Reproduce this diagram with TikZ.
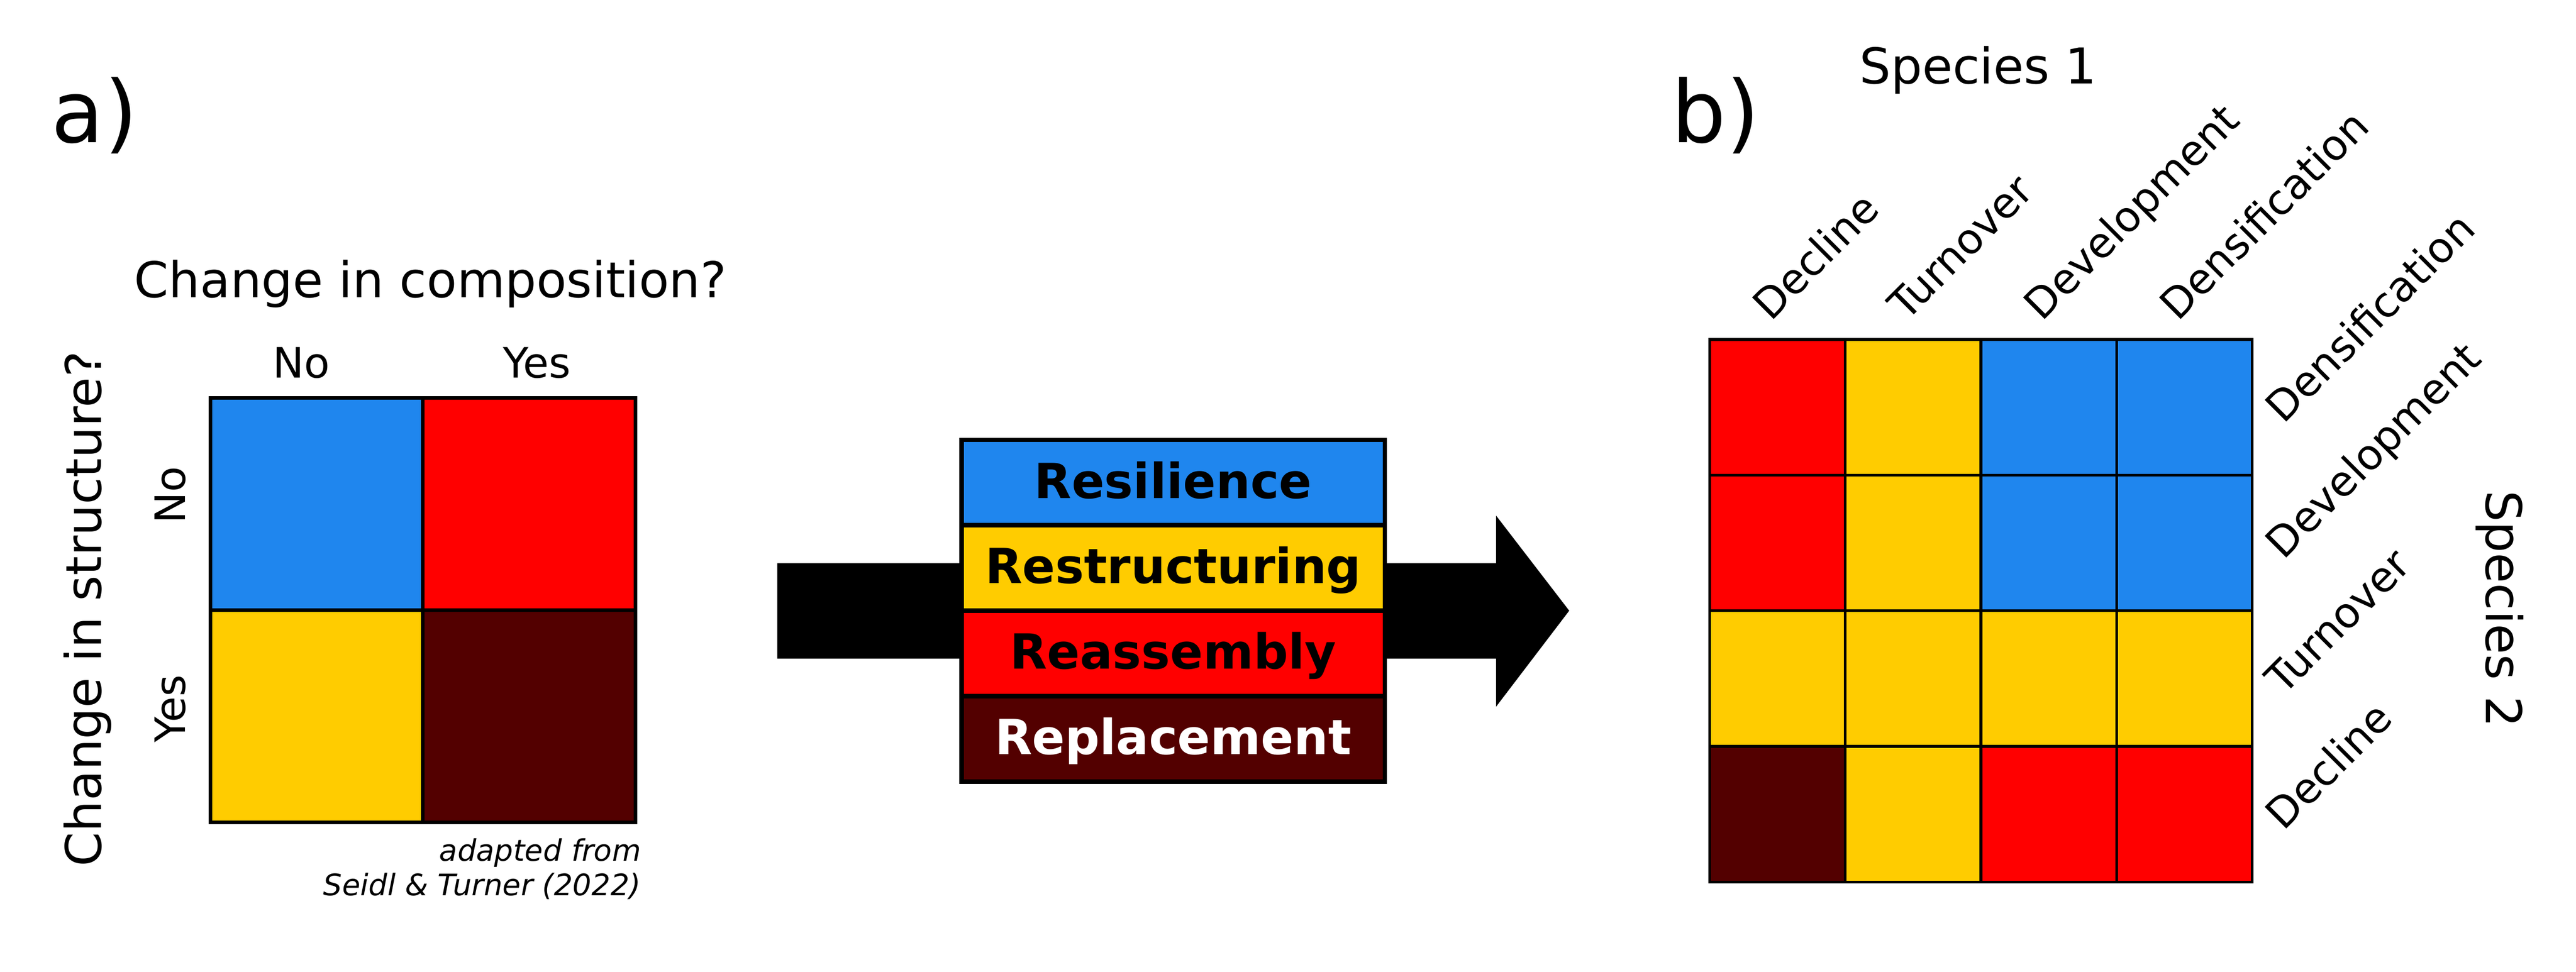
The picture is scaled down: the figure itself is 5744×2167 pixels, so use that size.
\documentclass[tikz,border=0pt]{standalone}
\usepackage{fontspec}
\setmainfont{DejaVu Sans}
\begin{document}
\begin{tikzpicture}[x=0.1mm, y=-0.1mm,
        titel/.style={inner sep=0pt, font=\fontsize{31.3pt}{36pt}\selectfont},
        kategorie/.style={inner sep=0pt, font=\fontsize{26.6pt}{31pt}\selectfont},
        typ/.style={inner sep=0pt, font=\fontsize{30.7pt}{36pt}\selectfont\bfseries},
        panel/.style={inner sep=0pt, font=\fontsize{54.6pt}{60pt}\selectfont},
        quelle/.style={inner sep=0pt, font=\fontsize{18.8pt}{22pt}\selectfont\itshape}]
        % CI-Farben
        \definecolor{ciResilience}{HTML}{1F86EE}
        \definecolor{ciRestructuring}{HTML}{FFCC00}
        \definecolor{ciReassembly}{HTML}{FF0000}
        \definecolor{ciReplacement}{HTML}{530000}

        % Hintergrund
        \fill[white] (0,0) rectangle (5744,2167);

        % Panel a: 2x2-Matrix
        \node[panel, anchor=base west] (panelA) at (114,318) {a)};
        \foreach \x/\y/\c in {0/0/ciResilience, 1/0/ciReassembly,
                              0/1/ciRestructuring, 1/1/ciReplacement}
            \draw[fill=\c, line width=0.8mm] (469+474*\x,888+473*\y) rectangle ++(474,473);
        \node[titel, anchor=base] (frageKomp) at (960,663) {Change in composition?};
        \node[kategorie, anchor=base] (kompNein) at (672,843) {No};
        \node[kategorie, anchor=base] (kompJa) at (1197,843) {Yes};
        \node[titel, rotate=90, anchor=base] (frageStrukt) at (226,1358) {Change in structure?};
        \node[kategorie, rotate=90, anchor=base] (struktNein) at (413,1104) {No};
        \node[kategorie, rotate=90, anchor=base] (struktJa) at (413,1580) {Yes};
        \node[quelle, anchor=base east] (quelleA) at (1430,1920) {adapted from};
        \node[quelle, anchor=base east] (quelleB) at (1430,1997) {Seidl \& Turner (2022)};

        % Pfeil
        \fill[black] (1733,1256) -- (3336,1256) -- (3336,1150) -- (3499,1362)
            -- (3336,1576) -- (3336,1469) -- (1733,1469) -- cycle;

        % Typen: Label / Farbe / Textfarbe / Position
        \foreach \t/\c/\f/\i in {
            Resilience/ciResilience/black/0,
            Restructuring/ciRestructuring/black/1,
            Reassembly/ciReassembly/black/2,
            Replacement/ciReplacement/white/3}
        {
            \draw[fill=\c, line width=1mm] (2144,981+190.5*\i) rectangle (3088,1171.5+190.5*\i);
            \node[typ, text=\f, anchor=base] (typ-\i) at (2616,1111+190.5*\i) {\t};
        }

        % Panel b: 4x4-Matrix
        \node[panel, anchor=base west] (panelB) at (3727,318) {b)};
        \foreach \x/\y/\c in {
            0/0/ciReassembly, 1/0/ciRestructuring, 2/0/ciResilience, 3/0/ciResilience,
            0/1/ciReassembly, 1/1/ciRestructuring, 2/1/ciResilience, 3/1/ciResilience,
            0/2/ciRestructuring, 1/2/ciRestructuring, 2/2/ciRestructuring, 3/2/ciRestructuring,
            0/3/ciReplacement, 1/3/ciRestructuring, 2/3/ciReassembly, 3/3/ciReassembly}
            \draw[fill=\c, line width=0.6mm] (3812+302.5*\x,757+302.5*\y) rectangle ++(302.5,302.5);
        \node[titel, anchor=base] (art1) at (4411,187) {Species 1};
        \node[titel, rotate=-90, anchor=base] (art2) at (5543,1358) {Species 2};
        % Spalten (Species 1) und Zeilen (Species 2)
        \foreach \t [count=\i from 0] in {Decline,Turnover,Development,Densification}
            \node[kategorie, rotate=45, anchor=base west] (spalte-\i) at (3948+302.5*\i,719) {\t};
        \foreach \t [count=\j from 0] in {Densification,Development,Turnover,Decline}
            \node[kategorie, rotate=45, anchor=base west] (zeile-\j) at (5092,948+302.5*\j) {\t};
\end{tikzpicture}
\end{document}
